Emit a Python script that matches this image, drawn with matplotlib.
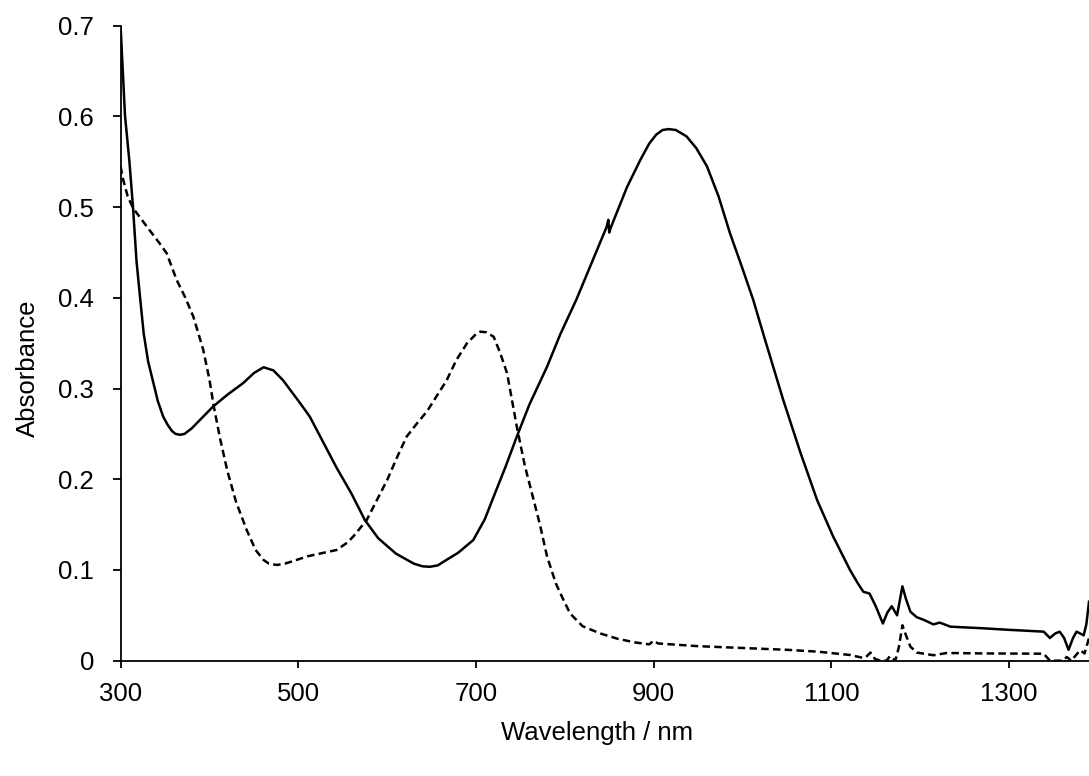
import matplotlib
matplotlib.use('Agg')
import matplotlib.pyplot as plt

plt.rcParams['font.family'] = ['Liberation Sans', 'DejaVu Sans']

# solid spectrum
wl_solid = [300, 305, 310, 314, 318, 322, 326, 331, 337, 342, 348, 353, 358, 362, 367, 372,
            380, 392, 404, 420, 438, 450, 461, 472, 483, 502, 513, 543, 560, 575, 590, 610,
            630, 640, 648, 657, 665, 680, 697, 710, 720, 733, 746, 760, 780, 795, 813, 830,
            847, 849, 850, 852, 870, 885, 895, 903, 910, 917, 925, 937, 948, 960, 973, 986,
            999, 1012, 1025, 1046, 1065, 1084, 1102, 1121, 1130, 1136, 1143, 1150, 1158,
            1163, 1168, 1174, 1180, 1184, 1189, 1196, 1204, 1215, 1222, 1234, 1271, 1300,
            1320, 1339, 1346, 1352, 1357, 1362, 1367, 1372, 1376, 1384, 1387, 1390]
abs_solid = [0.700, 0.601, 0.550, 0.500, 0.440, 0.400, 0.361, 0.330, 0.306, 0.286, 0.269,
             0.260, 0.253, 0.250, 0.249, 0.250, 0.256, 0.268, 0.280, 0.293, 0.306, 0.317,
             0.3235, 0.320, 0.309, 0.284, 0.269, 0.213, 0.184, 0.155, 0.135, 0.118, 0.107,
             0.104, 0.1035, 0.105, 0.110, 0.119, 0.133, 0.156, 0.181, 0.213, 0.247, 0.282,
             0.324, 0.360, 0.398, 0.438, 0.478, 0.486, 0.472, 0.478, 0.522, 0.552, 0.570,
             0.580, 0.585, 0.586, 0.585, 0.578, 0.565, 0.545, 0.512, 0.471, 0.435, 0.398,
             0.355, 0.287, 0.230, 0.177, 0.137, 0.100, 0.085, 0.076, 0.074, 0.060, 0.041,
             0.053, 0.060, 0.050, 0.082, 0.068, 0.054, 0.048, 0.045, 0.040, 0.042, 0.0375,
             0.0357, 0.034, 0.033, 0.032, 0.025, 0.030, 0.032, 0.025, 0.012, 0.025, 0.032,
             0.028, 0.040, 0.065]

# dashed spectrum
wl_dash = [300, 303, 308, 314, 330, 344, 352, 363, 373, 382, 393, 400, 405, 412, 420, 430,
           442, 452, 461, 467, 476, 485, 495, 510, 543, 555, 562, 577, 600, 612, 622, 634,
           645, 667, 678, 690, 700, 705, 712, 720, 727, 735, 746, 755, 765, 772, 780, 790,
           798, 806, 820, 840, 860, 880, 895, 900, 905, 950, 1000, 1050, 1084, 1121, 1136,
           1140, 1144, 1149, 1155, 1162, 1166, 1172, 1176, 1180, 1184, 1189, 1196, 1215,
           1230, 1271, 1339, 1346, 1360, 1365, 1370, 1380, 1385, 1390]
abs_dash = [0.545, 0.530, 0.512, 0.499, 0.478, 0.460, 0.449, 0.420, 0.400, 0.379, 0.343,
            0.310, 0.280, 0.245, 0.210, 0.175, 0.144, 0.122, 0.111, 0.107, 0.1055, 0.107,
            0.110, 0.115, 0.122, 0.130, 0.137, 0.155, 0.199, 0.226, 0.247, 0.262, 0.275,
            0.309, 0.3315, 0.350, 0.360, 0.3627, 0.362, 0.357, 0.340, 0.317, 0.258, 0.215,
            0.177, 0.150, 0.115, 0.085, 0.068, 0.052, 0.038, 0.030, 0.024, 0.020, 0.018,
            0.022, 0.019, 0.016, 0.014, 0.012, 0.010, 0.0063, 0.003, 0.005, 0.009, 0.002,
            0.0, 0.0, 0.005, 0.0, 0.015, 0.039, 0.028, 0.0155, 0.009, 0.006, 0.0085, 0.008,
            0.0077, 0.0, 0.0, 0.004, 0.0, 0.0115, 0.008, 0.025]

x_ticks = [300, 500, 700, 900, 1100, 1300]
y_ticks = [0, 0.1, 0.2, 0.3, 0.4, 0.5, 0.6, 0.7]
y_ticklabels = ['0', '0.1', '0.2', '0.3', '0.4', '0.5', '0.6', '0.7']

fig = plt.figure(figsize=(10.89, 7.76), dpi=100)
ax = fig.add_axes([0.1107, 0.1486, 0.8893, 0.8183])

ax.plot(wl_solid, abs_solid, color='black', lw=1.8, solid_joinstyle='round')
ax.plot(wl_dash, abs_dash, color='black', lw=1.8, dashes=(3.0, 1.7))

ax.set_xlim(300, 1390)
ax.set_ylim(0, 0.7)
ax.set_xticks(x_ticks)
ax.set_yticks(y_ticks)
ax.set_yticklabels(y_ticklabels)

for s in ['top', 'right']:
    ax.spines[s].set_visible(False)
for s in ['left', 'bottom']:
    ax.spines[s].set_linewidth(1.3)

ax.tick_params(axis='y', direction='out', length=6, width=1.3, pad=13, labelsize=18.5)
ax.tick_params(axis='x', direction='out', length=5, width=1.3, pad=10, labelsize=18.5)

ax.set_xlabel('Wavelength / nm', fontsize=18.5)
ax.xaxis.set_label_coords(0.492, -0.114)
ax.xaxis.label.set_va('center')
ax.set_ylabel('Absorbance', fontsize=18.5)
ax.yaxis.set_label_coords(-0.0955, 0.46)
ax.yaxis.label.set_va('center')

fig.savefig('out.png', dpi=100)
